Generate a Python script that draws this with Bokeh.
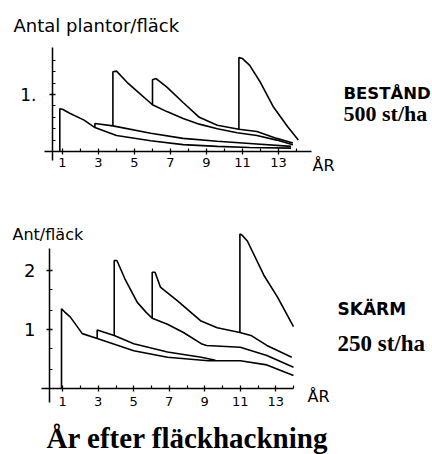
from bokeh.plotting import figure
from bokeh.models import Range1d, FixedTicker, Label, LinearAxis
from bokeh.layouts import column
from bokeh.embed import file_html
from bokeh.resources import INLINE

# ---------------- data ----------------
x_ticks = [1, 3, 5, 7, 9, 11, 13]
x_minor = [2, 4, 6, 8, 10, 12, 14]

# Top panel: BESTÅND 500 st/ha  (plants per patch vs year)
top_a_x = [0.85, 0.85, 1.0, 1.4, 2.2, 2.8, 4.0, 5.9, 7.7, 9.6, 11.4, 13.7]
top_a_y = [0.0, 0.75, 0.74, 0.67, 0.55, 0.42, 0.28, 0.19, 0.12, 0.09, 0.07, 0.06]
top_b_x = [2.8, 2.8, 3.8, 5.9, 7.7, 9.6, 11.4, 13.7]
top_b_y = [0.42, 0.49, 0.45, 0.32, 0.23, 0.18, 0.14, 0.09]
top_c_x = [3.8, 3.8, 4.0, 4.6, 5.2, 6.0, 6.8, 7.7, 8.6, 9.6, 10.7, 11.8, 12.9, 13.8]
top_c_y = [0.45, 1.40, 1.41, 1.21, 1.04, 0.82, 0.70, 0.58, 0.48, 0.40, 0.33, 0.28, 0.20, 0.12]
top_d_x = [6.0, 6.0, 6.2, 6.8, 7.7, 8.6, 9.6, 10.8, 11.8, 12.9, 13.8]
top_d_y = [0.82, 1.26, 1.28, 1.13, 0.86, 0.60, 0.46, 0.39, 0.35, 0.23, 0.15]
top_e_x = [10.8, 10.8, 11.0, 11.4, 12.0, 12.7, 13.5, 14.1]
top_e_y = [0.39, 1.65, 1.63, 1.51, 1.21, 0.79, 0.44, 0.20]
top_y_ticks = [1]
top_y_minor = [0.2, 0.4, 0.6, 0.8, 1.2, 1.4, 1.6]

# Bottom panel: SKÄRM 250 st/ha
bot_a_x = [0.93, 0.93, 1.1, 1.43, 2.1, 2.9, 5.0, 6.9, 9.2, 11.0, 12.5, 14.0]
bot_a_y = [0.0, 1.35, 1.30, 1.21, 0.93, 0.85, 0.64, 0.53, 0.47, 0.47, 0.40, 0.22]
bot_b_x = [2.94, 2.94, 3.9, 5.0, 6.9, 8.8, 9.6]
bot_b_y = [0.85, 0.99, 0.90, 0.76, 0.62, 0.53, 0.48]
bot_c_x = [3.9, 3.9, 4.05, 4.5, 5.2, 5.7, 6.04, 6.9, 7.8, 8.8, 9.1, 11.0, 12.5, 14.0]
bot_c_y = [0.90, 2.17, 2.17, 1.86, 1.46, 1.29, 1.19, 1.09, 0.95, 0.76, 0.73, 0.70, 0.56, 0.36]
bot_d_x = [6.04, 6.04, 6.2, 6.5, 7.45, 8.76, 9.7, 10.98, 11.6, 12.5, 13.9]
bot_d_y = [1.19, 1.97, 1.97, 1.72, 1.49, 1.15, 1.03, 0.95, 0.90, 0.73, 0.53]
bot_e_x = [10.98, 10.98, 11.1, 11.4, 12.33, 13.1, 14.0]
bot_e_y = [0.95, 2.62, 2.60, 2.50, 1.92, 1.55, 1.05]
bot_y_ticks = [1, 2]
bot_y_minor = [0.33, 0.67, 1.33, 1.67]

top_curves = [(top_a_x, top_a_y), (top_b_x, top_b_y), (top_c_x, top_c_y),
              (top_d_x, top_d_y), (top_e_x, top_e_y)]
bot_curves = [(bot_a_x, bot_a_y), (bot_b_x, bot_b_y), (bot_c_x, bot_c_y),
              (bot_d_x, bot_d_y), (bot_e_x, bot_e_y)]

HAND = "DejaVu Sans"
SERIF = "Liberation Serif"


def make_panel(height, xr, yr, xbounds, ybounds, y_at, curves, yticks, yminor,
               ylabel_over, ylab_size, xlab_standoff, ylab_standoff):
    p = figure(width=432, height=height, x_range=Range1d(*xr), y_range=Range1d(*yr),
               x_axis_type=None, y_axis_type=None,
               output_backend="svg", toolbar_location=None, min_border=0)
    p.outline_line_color = None
    p.background_fill_color = "white"
    p.border_fill_color = "white"
    for xs, ys in curves:
        p.line(xs, ys, line_color="black", line_width=1.6)
    xa = LinearAxis(fixed_location=0, bounds=xbounds,
                    ticker=FixedTicker(ticks=x_ticks, minor_ticks=x_minor))
    ya = LinearAxis(fixed_location=y_at, bounds=ybounds,
                    ticker=FixedTicker(ticks=yticks, minor_ticks=yminor))
    ya.major_label_overrides = ylabel_over
    for ax in (xa, ya):
        ax.axis_line_color = "black"
        ax.axis_line_width = 1.5
        ax.major_tick_line_color = "black"
        ax.minor_tick_line_color = "black"
        ax.major_tick_line_width = 1.3
        ax.minor_tick_line_width = 1.2
        ax.major_tick_in = 3
        ax.major_tick_out = 3
        ax.minor_tick_in = 3
        ax.minor_tick_out = 0
        ax.major_label_text_font = HAND
        ax.major_label_text_color = "black"
    xa.major_label_text_font_size = "13px"
    xa.major_label_standoff = xlab_standoff
    ya.major_label_text_font_size = ylab_size
    ya.major_label_standoff = ylab_standoff
    p.add_layout(xa, "below")
    p.add_layout(ya, "left")
    return p


def txt(p, x, y, s, font, size, bold=False, baseline="alphabetic", align="left"):
    p.add_layout(Label(x=x, y=y, text=s, text_font=font, text_font_size=size,
                       text_font_style="bold" if bold else "normal",
                       text_baseline=baseline, text_align=align, text_color="black"))


# top panel: pixel x = 44 + 18*year, pixel y = 151 - 57*value
tx = lambda px: (px - 44) / 18
ty = lambda py: (151 - py) / 57
p1 = make_panel(200, (tx(0), tx(432)), (ty(200), ty(0)),
                (tx(44), tx(311)), (ty(160), ty(47)), tx(52),
                top_curves, top_y_ticks, top_y_minor, {1: "1."}, "17px", 3, 13)
txt(p1, tx(13), ty(25), "Antal plantor/fläck", HAND, "18px", baseline="middle")
txt(p1, tx(312), ty(165), "ÅR", HAND, "16px", baseline="middle")
txt(p1, tx(343), ty(93), "BESTÅND", "DejaVu Sans", "16.5px", bold=True)
txt(p1, tx(343), ty(113), "500 st/ha", SERIF, "22px", bold=True)

# bottom panel: pixel x = 44.5 + 17.75*year, pixel y(page) = 388 - 59*value
bx = lambda px: (px - 44.5) / 17.75
by = lambda py: (388 - py) / 59
p2 = make_panel(254, (bx(0), bx(432)), (by(454), by(200)),
                (bx(41), bx(293)), (by(402), by(248)), bx(49),
                bot_curves, bot_y_ticks, bot_y_minor, {}, "18px", 5, 11)
txt(p2, bx(12), by(234), "Ant/fläck", HAND, "16px", baseline="middle")
txt(p2, bx(307), by(396), "ÅR", HAND, "16px", baseline="middle")
txt(p2, bx(337), by(308), "SKÄRM", "DejaVu Sans", "17px", bold=True)
txt(p2, bx(337), by(343), "250 st/ha", SERIF, "23px", bold=True)
txt(p2, bx(187), by(437), "År efter fläckhackning", SERIF, "29px", bold=True, align="center")

layout = column(p1, p2, spacing=0)
open("out.html", "w").write(file_html(layout, INLINE))
